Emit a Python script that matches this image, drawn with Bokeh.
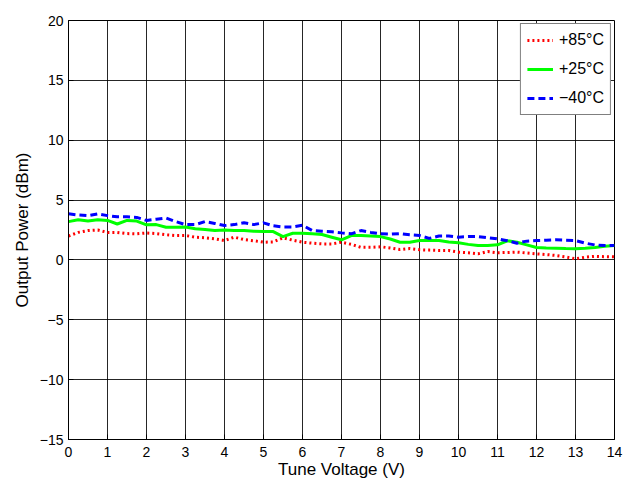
from bokeh.plotting import figure
from bokeh.models import Range1d, FixedTicker, Legend, LegendItem
from bokeh.embed import file_html
from bokeh.resources import INLINE

voltage = [i * 0.25 for i in range(57)]

p85 = [2.0, 2.3, 2.45, 2.5, 2.3, 2.3, 2.2, 2.18, 2.25, 2.2, 2.1, 2.04, 2.04, 1.9, 1.85, 1.76,
       1.62, 1.9, 1.7, 1.6, 1.48, 1.5, 1.85, 1.65, 1.48, 1.4, 1.34, 1.34, 1.48, 1.3, 1.05, 1.05,
       1.1, 1.0, 0.87, 0.95, 0.85, 0.82, 0.79, 0.79, 0.65, 0.6, 0.51, 0.7, 0.6, 0.62, 0.65, 0.58,
       0.51, 0.45, 0.37, 0.25, 0.09, 0.23, 0.3, 0.27, 0.26]
p25 = [3.2, 3.35, 3.25, 3.35, 3.3, 3.0, 3.3, 3.25, 2.93, 2.95, 2.73, 2.73, 2.75, 2.6, 2.55, 2.45,
       2.5, 2.45, 2.45, 2.4, 2.37, 2.37, 1.95, 2.23, 2.23, 2.18, 2.12, 1.9, 1.68, 2.04, 2.04, 2.0,
       1.95, 1.75, 1.48, 1.48, 1.62, 1.62, 1.62, 1.5, 1.43, 1.3, 1.2, 1.2, 1.26, 1.6, 1.48, 1.26,
       1.04, 1.0, 0.98, 0.95, 0.93, 0.98, 1.04, 1.15, 1.2]
m40 = [3.85, 3.75, 3.7, 3.85, 3.7, 3.6, 3.6, 3.55, 3.3, 3.4, 3.5, 3.2, 2.95, 2.95, 3.2, 3.05,
       2.87, 2.95, 3.1, 2.95, 3.1, 2.85, 2.75, 2.75, 2.9, 2.45, 2.4, 2.35, 2.26, 2.18, 2.45, 2.3,
       2.18, 2.15, 2.2, 2.1, 2.04, 1.8, 2.0, 2.0, 1.9, 1.95, 1.95, 1.85, 1.76, 1.6, 1.4, 1.57,
       1.62, 1.65, 1.68, 1.65, 1.62, 1.4, 1.25, 1.2, 1.2]

series_labels = ["+85°C", "+25°C", "\u221240°C"]
x_ticks = list(range(0, 15))
y_ticks = [-15, -10, -5, 0, 5, 10, 15, 20]

FONT = "Liberation Sans"

p = figure(frame_width=546, frame_height=419, output_backend="svg", toolbar_location=None,
           x_range=Range1d(0, 14), y_range=Range1d(-15, 20),
           min_border_left=68, min_border_right=14, min_border_top=20, min_border_bottom=30)
p.background_fill_color = "white"
p.border_fill_color = "white"
p.outline_line_color = "black"
p.outline_line_width = 1

for ax in (p.xaxis[0], p.yaxis[0]):
    ax.major_tick_in = 5
    ax.major_tick_out = 0
    ax.minor_tick_in = 0
    ax.minor_tick_out = 0
    ax.axis_line_color = "black"
    ax.major_tick_line_color = "black"
    ax.major_label_text_font = FONT
    ax.major_label_text_font_size = "14px"
    ax.major_label_text_color = "black"
    ax.axis_label_text_font = FONT
    ax.axis_label_text_font_size = "17px"
    ax.axis_label_text_font_style = "normal"
    ax.axis_label_text_color = "black"

p.xaxis.ticker = FixedTicker(ticks=x_ticks)
p.yaxis.ticker = FixedTicker(ticks=y_ticks)
p.xaxis.axis_label = "Tune Voltage (V)"
p.yaxis.axis_label = "Output Power (dBm)"
p.xaxis.axis_label_standoff = 0
p.yaxis.axis_label_standoff = 5
p.xaxis.major_label_standoff = 7
p.yaxis.major_label_standoff = 5

p.xgrid.grid_line_color = "black"
p.ygrid.grid_line_color = "black"
p.xgrid.grid_line_alpha = 0.85
p.ygrid.grid_line_alpha = 0.85
p.xgrid.grid_line_width = 1
p.ygrid.grid_line_width = 1

r1 = p.line(voltage, p85, line_color="#FF0000", line_width=3, line_dash="2 3")
r2 = p.line(voltage, p25, line_color="#00FF00", line_width=3)
r3 = p.line(voltage, m40, line_color="#0000FF", line_width=3, line_dash="7 4")

legend = Legend(items=[LegendItem(label=series_labels[0], renderers=[r1]),
                       LegendItem(label=series_labels[1], renderers=[r2]),
                       LegendItem(label=series_labels[2], renderers=[r3])],
                location="top_right")
legend.label_text_font = FONT
legend.label_text_font_size = "16px"
legend.label_text_color = "black"
legend.border_line_color = "black"
legend.border_line_width = 1
legend.background_fill_color = "white"
legend.background_fill_alpha = 1
legend.margin = 3
legend.padding = 6
legend.spacing = 9
legend.glyph_width = 26
legend.glyph_height = 20
legend.label_height = 20
legend.label_standoff = 6
p.add_layout(legend, "center")

open("out.html", "w").write(file_html(p, INLINE))
